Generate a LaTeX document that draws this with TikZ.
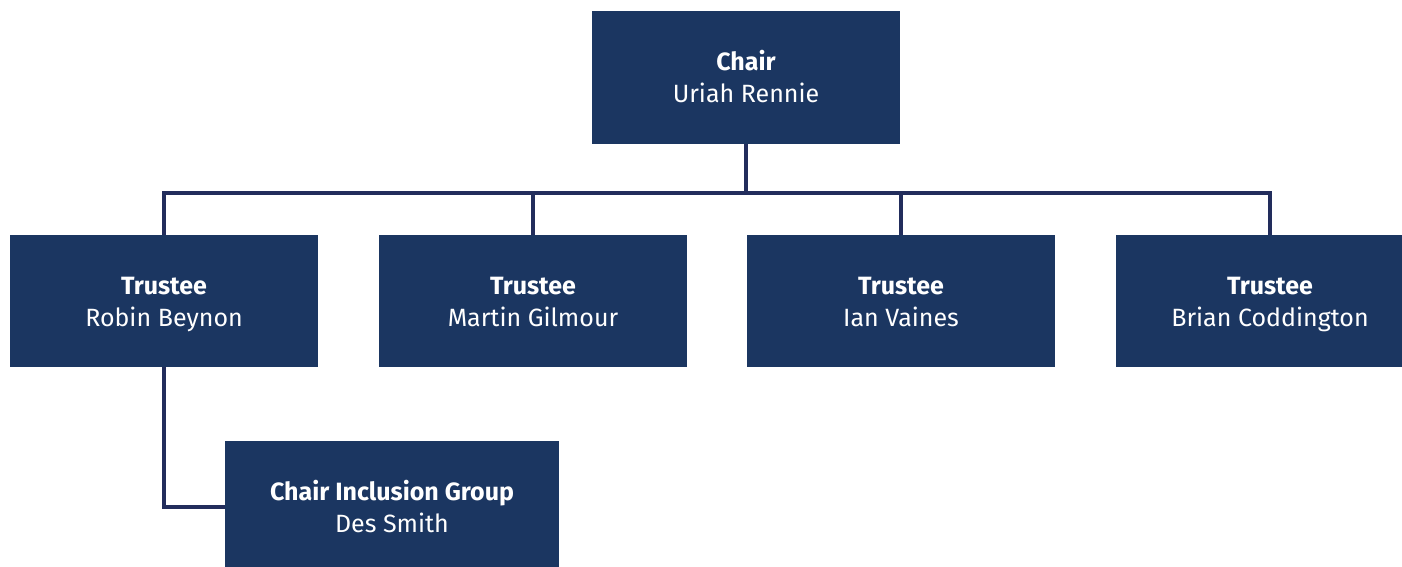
\documentclass[tikz,border=0pt]{standalone}
\usepackage{fontspec}
\setmainfont{Fira Sans}
\definecolor{boxfill}{HTML}{1B3661}
\definecolor{linecol}{HTML}{222D5C}
\newcommand{\orgstrut}{\rule[-7pt]{0pt}{32pt}}
\tikzset{
  orgbox/.style={fill=boxfill, text=white, minimum width=308pt, minimum height=132pt,
    inner sep=0pt, align=center, font=\fontsize{25}{32}\selectfont},
  conn/.style={draw=linecol, line width=4pt}
}
\begin{document}
\begin{tikzpicture}[x=1pt,y=-1pt]
\path[use as bounding box, clip] (0,0) rectangle (1402,567);
\fill[white] (0,0) rectangle (1402,567);
\node[orgbox] (chair) at (746,77.5) {\orgstrut\textbf{Chair}\\\orgstrut Uriah Rennie};
\node[orgbox] (t1) at (164,301) {\orgstrut\textbf{Trustee}\\\orgstrut Robin Beynon};
\node[orgbox] (t2) at (533,301) {\orgstrut\textbf{Trustee}\\\orgstrut Martin Gilmour};
\node[orgbox] (t3) at (901,301) {\orgstrut\textbf{Trustee}\\\orgstrut Ian Vaines};
\node[orgbox] (t4) at (1270,301) {\orgstrut\textbf{Trustee}\\\orgstrut Brian Coddington};
\node[orgbox, minimum width=334pt] (cig) at (392,507) {\orgstrut\textbf{Chair Inclusion Group}\\\orgstrut Des Smith};
\coordinate (bus) at (746,193);
\draw[conn] (chair.south) -- (bus);
\draw[conn] (t1.north) |- (bus);
\draw[conn] (t2.north) |- (bus);
\draw[conn] (t3.north) |- (bus);
\draw[conn] (t4.north) |- (bus);
\draw[conn] (t1.south) |- (cig.west);
\end{tikzpicture}
\end{document}
